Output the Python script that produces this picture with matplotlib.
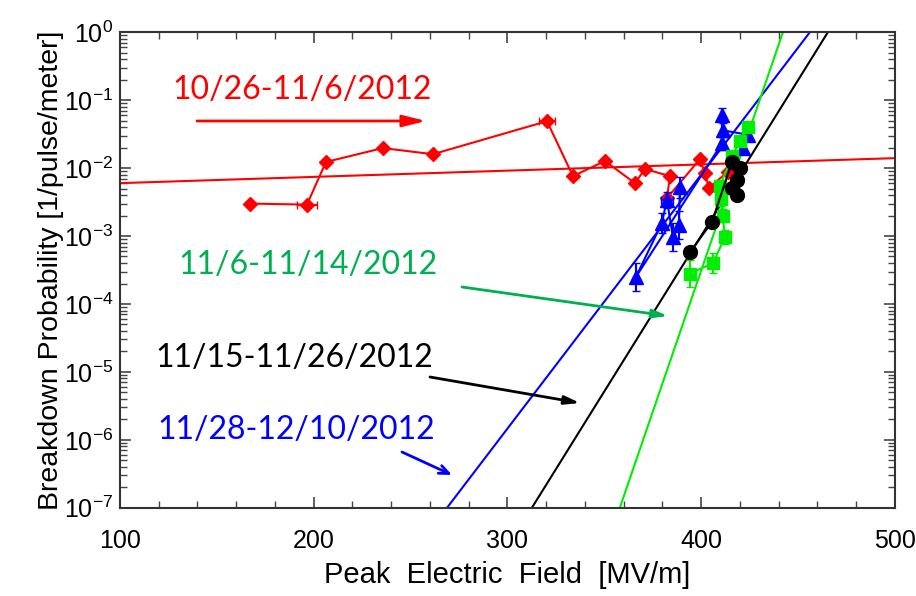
import matplotlib
matplotlib.use('Agg')
import matplotlib.pyplot as plt
import numpy as np
from matplotlib import font_manager
from matplotlib.ticker import LogLocator, MultipleLocator, NullFormatter

# Breakdown probability vs. peak field, four run periods
red_E = [167.1, 196.5, 206.3, 235.7, 261.5, 320.4, 333.8, 350.3, 365.8, 371.0,
         383.9, 382.3, 399.3, 401.9, 403.9, 413.7]
red_P = [3.0e-3, 2.9e-3, 1.23e-2, 1.97e-2, 1.6e-2, 4.9e-2, 7.6e-3, 1.27e-2, 6.0e-3, 9.7e-3,
         7.6e-3, 3.6e-3, 1.35e-2, 8.5e-3, 5.1e-3, 8.8e-3]
red_xerr = [0, 5, 0, 0, 0, 4, 0, 0, 0, 0, 0, 0, 0, 0, 0, 0]

blue_E = [389.0, 388.5, 385.4, 382.3, 379.7, 366.3, 410.7, 410.7, 411.0, 424.0, 421.5]
blue_P = [5.2e-3, 1.45e-3, 9.7e-4, 3.4e-3, 1.55e-3, 2.5e-4, 2.3e-2, 6.0e-2, 3.6e-2, 3.1e-2, 2.0e-2]
blue_yerr = [0.15, 0.2, 0.2, 0.12, 0.15, 0.2, 0.1, 0.1, 0.1, 0.1, 0.1]
blue_xerr = [0, 0, 0, 3, 0, 0, 0, 0, 0, 0, 0]

black_E = [394.2, 405.5, 415.9, 420.0, 418.4, 415.9, 418.4]
black_P = [5.8e-4, 1.6e-3, 1.23e-2, 1.0e-2, 6.7e-3, 5.1e-3, 4.0e-3]

green_E = [394.2, 406.1, 412.3, 411.0, 410.0, 409.7, 416.0, 420.0, 424.0]
green_P = [2.8e-4, 4.0e-4, 9.7e-4, 2.0e-3, 3.5e-3, 5.5e-3, 1.5e-2, 2.5e-2, 4.0e-2]
green_yerr = [0.2, 0.15, 0.1, 0.1, 0.1, 0.05, 0.05, 0.05, 0.05]

# exponential fits: field where P = 1e-7 and field where P = 1
red_fit = (100.0, 6.0e-3, 500.0, 1.40e-2)
blue_fit = (268.8, 456.1)
black_fit = (312.6, 465.4)
green_fit = (358.0, 442.2)

periods = ['10/26-11/6/2012', '11/6-11/14/2012', '11/15-11/26/2012', '11/28-12/10/2012']

RED = '#ff0000'
BLUE = '#0000ff'
LIME = '#00ee00'
TXTGREEN = '#00b050'

plt.rcParams['mathtext.fontset'] = 'custom'
plt.rcParams['mathtext.rm'] = 'Liberation Sans'
plt.rcParams['mathtext.it'] = 'Liberation Sans:italic'
plt.rcParams['mathtext.bf'] = 'Liberation Sans:bold'
plt.rcParams['font.family'] = ['Liberation Sans', 'DejaVu Sans']

installed = {f.name for f in font_manager.fontManager.ttflist}
narrow = 'Liberation Sans'
for cand in ['Liberation Sans Narrow', 'DejaVu Sans Condensed']:
    if cand in installed:
        narrow = cand
        break
xtick_size = 21 if narrow != 'Liberation Sans' else 18

fig = plt.figure(figsize=(9.16, 5.96), dpi=100)
ax = fig.add_axes([0.131, 0.148, 0.846, 0.798])


def logerr(P, dex):
    P = np.asarray(P)
    dex = np.asarray(dex)
    return [P - P * 10 ** (-dex), P * 10 ** dex - P]


def fit_line(E0, E1, c):
    E = np.linspace(100, 500, 400)
    P = 10 ** (-7 + 7 * (E - E0) / (E1 - E0))
    ax.plot(E, P, color=c, lw=1.5, zorder=2)


# fits
ax.plot([red_fit[0], red_fit[2]], [red_fit[1], red_fit[3]], color=RED, lw=1.5, zorder=2)
fit_line(*blue_fit, BLUE)
fit_line(*black_fit, 'black')
fit_line(*green_fit, LIME)

# data
ax.errorbar(red_E, red_P, xerr=red_xerr, color=RED, marker='D', ms=7, lw=1.5,
            capsize=3, zorder=3)
ax.errorbar(blue_E, blue_P, yerr=logerr(blue_P, blue_yerr), xerr=blue_xerr, color=BLUE,
            marker='^', ms=10, lw=1.5, capsize=3, zorder=4)
ax.errorbar(green_E, green_P, yerr=logerr(green_P, green_yerr), color=LIME, marker='s',
            ms=9, lw=1.5, capsize=3, zorder=5)
ax.errorbar(black_E, black_P, color='black', marker='o', ms=10, lw=1.5, zorder=6)

ax.set_yscale('log')
ax.set_xlim(100, 500)
ax.set_ylim(1e-7, 1)
ax.xaxis.set_major_locator(MultipleLocator(100))
ax.xaxis.set_minor_locator(MultipleLocator(20))
ax.yaxis.set_major_locator(LogLocator(base=10, numticks=12))
ax.yaxis.set_minor_locator(LogLocator(base=10, subs=np.arange(2, 10), numticks=12))
ax.yaxis.set_minor_formatter(NullFormatter())
ax.tick_params(which='both', direction='in', top=True, right=True, color='#444444')
ax.tick_params(which='major', length=8, width=1.2)
ax.tick_params(which='minor', length=5, width=1.0)
ax.tick_params(axis='y', labelsize=18, pad=5)
ax.tick_params(axis='x', labelsize=xtick_size, pad=15)
for lab in ax.get_xticklabels():
    lab.set_family(narrow)
for s in ax.spines.values():
    s.set_linewidth(1.5)
    s.set_color('#333333')

ax.set_xlabel('Peak  Electric  Field  [MV/m]', fontsize=21, family=narrow, labelpad=6)
ax.set_ylabel('Breakdown Probability [1/pulse/meter]', fontsize=20.5, labelpad=0)

# period labels and arrows, in pixel-fraction coordinates
tfont = ['Lato', 'DejaVu Sans']
fig.text(172 / 916, 1 - 90 / 596, periods[0], color=RED, fontsize=23, family=tfont, va='center')
fig.text(178 / 916, 1 - 265 / 596, periods[1], color=TXTGREEN, fontsize=23, family=tfont, va='center')
fig.text(155 / 916, 1 - 358 / 596, periods[2], color='black', fontsize=23, family=tfont, va='center')
fig.text(157 / 916, 1 - 430 / 596, periods[3], color=BLUE, fontsize=23, family=tfont, va='center')


def arrow(x0, y0, x1, y1, c, style):
    ax.annotate('', xy=(x1 / 916, 1 - y1 / 596), xycoords='figure fraction',
                xytext=(x0 / 916, 1 - y0 / 596), textcoords='figure fraction',
                arrowprops=dict(arrowstyle=style, color=c, lw=2, shrinkA=0, shrinkB=0))


arrow(197, 121, 426, 121, RED, '-|>,head_length=1.4,head_width=0.35')
arrow(462, 287, 668, 316, TXTGREEN, '-|>,head_length=0.9,head_width=0.25')
arrow(430, 377, 580, 403, 'black', '-|>,head_length=0.9,head_width=0.25')
arrow(402, 452, 452, 475, BLUE, '->,head_length=0.7,head_width=0.3')

fig.savefig('out.png', dpi=100)
